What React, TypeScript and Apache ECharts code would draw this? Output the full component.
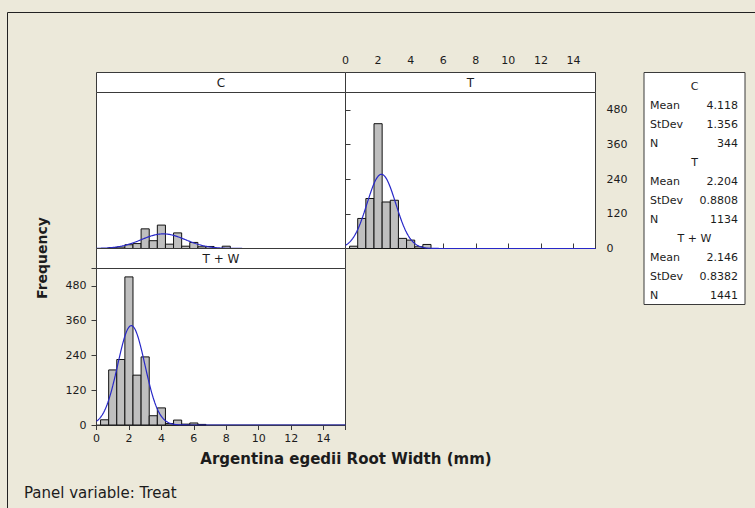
import React, { useEffect, useRef } from "react";
import * as echarts from "echarts";

// ---- data ----
const PANELS = ["C", "T", "T + W"];
const C_CENTERS = [1.0, 1.5, 2.0, 2.5, 3.0, 3.5, 4.0, 4.5, 5.0, 5.5, 6.0, 6.5, 7.0, 7.5, 8.0];
const C_COUNTS = [3, 5, 13, 17, 68, 27, 81, 15, 54, 8, 21, 6, 7, 0, 8];
const T_CENTERS = [0.5, 1.0, 1.5, 2.0, 2.5, 3.0, 3.5, 4.0, 4.5, 5.0];
const T_COUNTS = [8, 104, 173, 432, 161, 167, 35, 29, 6, 14];
const TW_CENTERS = [0.5, 1.0, 1.5, 2.0, 2.5, 3.0, 3.5, 4.0, 4.5, 5.0, 5.5, 6.0, 6.5];
const TW_COUNTS = [18, 190, 226, 511, 172, 235, 32, 59, 5, 17, 3, 7, 2];
const MEANS = [4.118, 2.204, 2.146];
const STDEVS = [1.356, 0.8808, 0.8382];
const NS = [344, 1134, 1441];
const MEAN_TEXT = ["4.118", "2.204", "2.146"];
const STDEV_TEXT = ["1.356", "0.8808", "0.8382"];
const BIN_WIDTH = 0.5;
const X_TICK_LABELS = ["0", "2", "4", "6", "8", "10", "12", "14"];
const Y_TICK_LABELS = ["0", "120", "240", "360", "480"];

const FONT = "'DejaVu Sans', sans-serif";

export default function App() {
  const ref = useRef<HTMLDivElement>(null);
  useEffect(() => {
    const chart = echarts.init(ref.current!, null, { renderer: "svg" });

    const L = 96.5, MID = 345.5, R = 595.5;
    const HDR1 = 72.5, PLOT1 = 92.5, BOT1 = 248.5;
    const HDR2 = 248.5, PLOT2 = 268.5, BOT2 = 425;
    const XMAX = 15.35, YMAX = 540;
    const BORDER = "#3a3a3a";
    const TXT = "#1c1c1c";

    const curve = (i: number) => {
      const pts: number[][] = [];
      const k = (NS[i] * BIN_WIDTH) / (STDEVS[i] * Math.sqrt(2 * Math.PI));
      for (let x = 0; x <= XMAX + 0.001; x += 0.05) {
        const z = (x - MEANS[i]) / STDEVS[i];
        pts.push([x, k * Math.exp(-0.5 * z * z)]);
      }
      return pts;
    };

    const barSeries = (centers: number[], counts: number[], idx: number) => ({
      type: "custom",
      xAxisIndex: idx,
      yAxisIndex: idx,
      data: centers.map((c, j) => [c, counts[j]]),
      renderItem: (params: any, api: any) => {
        const x = api.value(0);
        const y = api.value(1);
        if (!y) return null;
        const p1 = api.coord([x - BIN_WIDTH / 2, y]);
        const p2 = api.coord([x + BIN_WIDTH / 2, 0]);
        return {
          type: "rect",
          shape: { x: p1[0], y: p1[1], width: p2[0] - p1[0], height: p2[1] - p1[1] },
          style: { fill: "#bfbfbf", stroke: "#111", lineWidth: 1 },
        };
      },
      z: 2,
    });

    const lineSeries = (i: number) => ({
      type: "line",
      xAxisIndex: i,
      yAxisIndex: i,
      data: curve(i),
      showSymbol: false,
      symbol: "none",
      lineStyle: { color: "#2828c8", width: 1.2 },
      z: 3,
      silent: true,
    });

    const gridBase = {
      show: true,
      backgroundColor: "#ffffff",
      borderColor: BORDER,
      borderWidth: 1,
      outerBoundsMode: "none",
      containLabel: false,
    };

    const axisText = { fontFamily: FONT, fontSize: 11, color: TXT };

    const hiddenX = { type: "value", min: 0, max: XMAX, show: false };
    const hiddenY = { type: "value", min: 0, max: YMAX, show: false };

    const legendX0 = 644, legendX1 = 745;
    const legendEls: any[] = [];
    const sectionTops = [86, 162, 238];
    PANELS.forEach((p, i) => {
      const t = sectionTops[i];
      legendEls.push({ type: "text", z: 20, x: (legendX0 + legendX1) / 2, y: t, style: { text: p, font: `11px ${FONT}`, fill: TXT, align: "center", verticalAlign: "middle" } });
      const labels = ["Mean", "StDev", "N"];
      const vals = [MEAN_TEXT[i], STDEV_TEXT[i], String(NS[i])];
      labels.forEach((lab, r) => {
        const yy = t + 19 * (r + 1);
        legendEls.push({ type: "text", z: 20, x: 650, y: yy, style: { text: lab, font: `11px ${FONT}`, fill: TXT, align: "left", verticalAlign: "middle" } });
        legendEls.push({ type: "text", z: 20, x: 738, y: yy, style: { text: vals[r], font: `11px ${FONT}`, fill: TXT, align: "right", verticalAlign: "middle" } });
      });
    });

    const option: any = {
      animation: false,
      backgroundColor: "#ece9da",
      grid: [
        { ...gridBase, left: L, top: PLOT1, width: MID - L, height: BOT1 - PLOT1 },
        { ...gridBase, left: MID, top: PLOT1, width: R - MID, height: BOT1 - PLOT1 },
        { ...gridBase, left: L, top: PLOT2, width: MID - L, height: BOT2 - PLOT2 },
      ],
      xAxis: [
        { ...hiddenX, gridIndex: 0 },
        {
          type: "value", gridIndex: 1, min: 0, max: XMAX, interval: 2, position: "top", offset: PLOT1 - HDR1,
          axisLine: { show: true, lineStyle: { color: BORDER } },
          axisTick: { show: true, length: 5, lineStyle: { color: BORDER } },
          axisLabel: { ...axisText, margin: 7, formatter: (v: number) => X_TICK_LABELS[v / 2] ?? "" },
          splitLine: { show: false },
        },
        {
          type: "value", gridIndex: 2, min: 0, max: XMAX, interval: 2, position: "bottom",
          axisLine: { show: true, lineStyle: { color: BORDER } },
          axisTick: { show: true, length: 5, lineStyle: { color: BORDER } },
          axisLabel: { ...axisText, margin: 8, formatter: (v: number) => X_TICK_LABELS[v / 2] ?? "" },
          splitLine: { show: false },
        },
      ],
      yAxis: [
        { ...hiddenY, gridIndex: 0 },
        {
          type: "value", gridIndex: 1, min: 0, max: YMAX, interval: 120, position: "right",
          axisLine: { show: true, lineStyle: { color: BORDER } },
          axisTick: { show: true, length: 5, lineStyle: { color: BORDER } },
          axisLabel: { ...axisText, margin: 11, formatter: (v: number) => Y_TICK_LABELS[v / 120] ?? "" },
          splitLine: { show: false },
        },
        {
          type: "value", gridIndex: 2, min: 0, max: YMAX, interval: 120, position: "left",
          axisLine: { show: true, lineStyle: { color: BORDER } },
          axisTick: { show: true, length: 5, lineStyle: { color: BORDER } },
          axisLabel: { ...axisText, margin: 10, formatter: (v: number) => Y_TICK_LABELS[v / 120] ?? "" },
          splitLine: { show: false },
        },
      ],
      series: [
        barSeries(C_CENTERS, C_COUNTS, 0),
        barSeries(T_CENTERS, T_COUNTS, 1),
        barSeries(TW_CENTERS, TW_COUNTS, 2),
        lineSeries(0),
        lineSeries(1),
        lineSeries(2),
      ],
      graphic: [
        { type: "rect", shape: { x: 7.5, y: 12.5, width: 780, height: 530 }, style: { fill: "none", stroke: "#222", lineWidth: 1 }, z: 0 },
        { type: "rect", shape: { x: L, y: HDR1, width: MID - L, height: PLOT1 - HDR1 }, style: { fill: "#fff", stroke: BORDER, lineWidth: 1 }, z: 10 },
        { type: "rect", shape: { x: MID, y: HDR1, width: R - MID, height: PLOT1 - HDR1 }, style: { fill: "#fff", stroke: BORDER, lineWidth: 1 }, z: 10 },
        { type: "rect", shape: { x: L, y: HDR2, width: MID - L, height: PLOT2 - HDR2 }, style: { fill: "#fff", stroke: BORDER, lineWidth: 1 }, z: 10 },
        { type: "text", x: (L + MID) / 2, y: (HDR1 + PLOT1) / 2, style: { text: PANELS[0], font: `12px ${FONT}`, fill: TXT, align: "center", verticalAlign: "middle" }, z: 11 },
        { type: "text", x: (MID + R) / 2, y: (HDR1 + PLOT1) / 2, style: { text: PANELS[1], font: `12px ${FONT}`, fill: TXT, align: "center", verticalAlign: "middle" }, z: 11 },
        { type: "text", x: (L + MID) / 2, y: (HDR2 + PLOT2) / 2, style: { text: PANELS[2], font: `12px ${FONT}`, fill: TXT, align: "center", verticalAlign: "middle" }, z: 11 },
        { type: "rect", shape: { x: legendX0, y: 72.5, width: legendX1 - legendX0, height: 232 }, style: { fill: "#fff", stroke: BORDER, lineWidth: 1 }, z: 10 },
        ...legendEls,
        { type: "text", x: 42, y: 258, rotation: Math.PI / 2, style: { text: "Frequency", font: `bold 14px ${FONT}`, fill: TXT, align: "center", verticalAlign: "middle" }, z: 11 },
        { type: "text", x: 346, y: 459, style: { text: "Argentina egedii Root Width (mm)", font: `bold 15px ${FONT}`, fill: TXT, align: "center", verticalAlign: "middle" }, z: 11 },
        { type: "text", x: 24, y: 493, style: { text: "Panel variable: Treat", font: `15px ${FONT}`, fill: TXT, align: "left", verticalAlign: "middle" }, z: 11 },
      ],
    };

    chart.setOption(option);
    return () => chart.dispose();
  }, []);
  return <div ref={ref} style={{ position: "fixed", left: 0, top: 0, width: 755, height: 508 }} />;
}
